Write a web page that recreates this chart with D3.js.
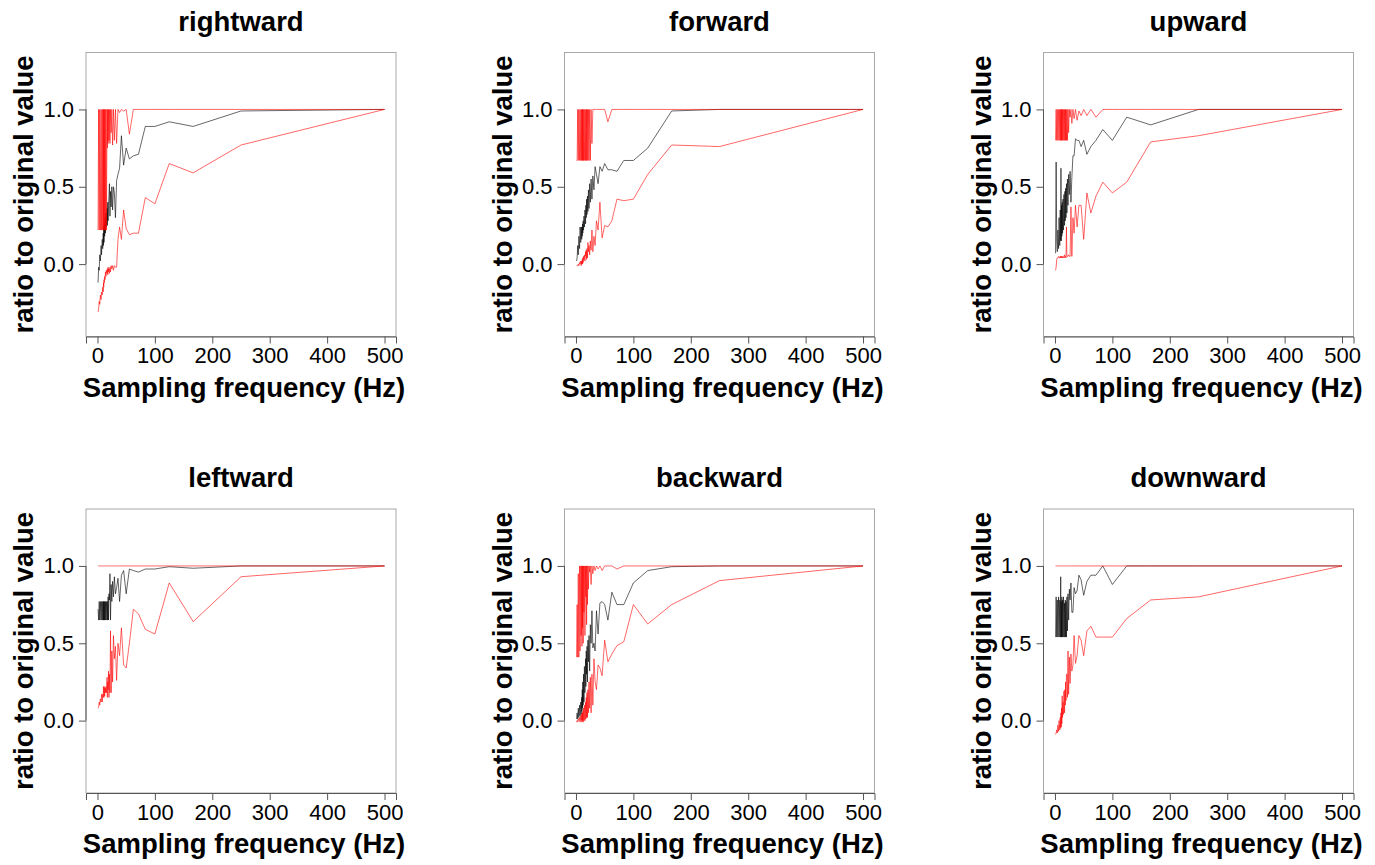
<!DOCTYPE html>
<html>
<head>
<meta charset="utf-8">
<script src="https://cdn.jsdelivr.net/npm/d3@7"></script>
<style>
  body { margin: 0; background: #fff; }
  svg { font-family: "Liberation Sans", Arial, sans-serif; }
  .box { fill: none; stroke: #a8a8a8; stroke-width: 1; }
  .axis path, .axis line { stroke: #555; }
  .axis text { fill: #000; }
  .title { font-size: 27.5px; font-weight: bold; text-anchor: middle; }
  .lab { font-size: 27.5px; font-weight: bold; text-anchor: middle; }
</style>
</head>
<body>
<svg width="1375" height="865"></svg>
<script>
/* sampling frequencies (Hz), 500/k */
var freqs = [500, 250, 166.7, 125, 100, 83.3, 71.4, 62.5, 55.6, 50,
  45.5, 41.7, 38.5, 35.7, 33.3, 31.3, 29.4, 27.8, 26.3, 25,
  23.8, 22.7, 21.7, 20.8, 20, 19.2, 18.5, 17.9, 17.2, 16.7,
  15.6, 14.7, 13.9, 13.2, 12.5, 11.9, 11.4, 10.9, 10.4, 10,
  9.1, 8.3, 7.1, 6.3, 5, 4, 3, 2, 1];

var titles = ["rightward", "forward", "upward", "leftward", "backward", "downward"];
var yTicks = [0, 0.5, 1];
var xTicks = [0, 100, 200, 300, 400, 500];

/* rightward */
var rightwardUpper = [1, 1, 1, 1, 1, 1, 1, 1, 0.84, 1,
  0.99, 1, 0.98, 1, 0.78, 1, 0.80, 1, 0.77, 1,
  0.85, 1, 0.78, 1, 0.80, 1, 0.78, 1, 0.75, 1,
  0.22, 1, 0.22, 1, 0.22, 1, 0.22, 1, 0.22, 1,
  0.22, 1, 0.22, 1, 0.22, 1, 0.22, 1, 0.22];
var rightwardMean = [1, 0.99, 0.89, 0.92, 0.89, 0.89, 0.71, 0.70, 0.68, 0.75,
  0.64, 0.83, 0.62, 0.58, 0.54, 0.30, 0.46, 0.50, 0.35, 0.50,
  0.37, 0.47, 0.31, 0.52, 0.44, 0.38, 0.28, 0.40, 0.25, 0.36,
  0.24, 0.33, 0.20, 0.30, 0.18, 0.26, 0.14, 0.24, 0.12, 0.20,
  0.10, 0.16, 0.06, 0.12, 0.02, 0.06, -0.04, -0.02, -0.12];
var rightwardLower = [1, 0.77, 0.59, 0.65, 0.39, 0.43, 0.20, 0.20, 0.19, 0.23,
  0.35, 0.16, 0.24, 0.16, -0.02, -0.02, -0.01, -0.04, -0.01, -0.03,
  -0.01, -0.05, -0.02, -0.06, -0.03, -0.05, -0.02, -0.07, -0.03, -0.06,
  -0.04, -0.08, -0.05, -0.10, -0.08, -0.12, -0.10, -0.15, -0.12, -0.18,
  -0.15, -0.20, -0.18, -0.23, -0.20, -0.26, -0.24, -0.29, -0.31];

/* forward */
var forwardUpper = [1, 1, 1, 1, 1, 1, 1, 1, 0.92, 1,
  1, 1, 1, 1, 1, 1, 1, 0.78, 1, 0.67,
  1, 0.67, 1, 0.67, 1, 0.67, 1, 0.67, 1, 0.67,
  1, 0.67, 1, 0.67, 1, 0.67, 1, 0.67, 1, 0.67,
  1, 0.67, 1, 0.67, 1, 0.67, 1, 0.67, 0.67];
var forwardMean = [1, 1, 0.99, 0.75, 0.67, 0.67, 0.60, 0.61, 0.61, 0.65,
  0.60, 0.63, 0.52, 0.58, 0.63, 0.48, 0.57, 0.42, 0.55, 0.40,
  0.52, 0.36, 0.48, 0.34, 0.44, 0.32, 0.42, 0.30, 0.38, 0.26,
  0.35, 0.24, 0.31, 0.22, 0.28, 0.20, 0.26, 0.18, 0.24, 0.16,
  0.24, 0.14, 0.24, 0.10, 0.18, 0.06, 0.12, 0.04, 0.02];
var forwardLower = [1, 0.76, 0.77, 0.58, 0.42, 0.41, 0.42, 0.28, 0.24, 0.25,
  0.17, 0.40, 0.22, 0.28, 0.12, 0.18, 0.08, 0.22, 0.09, 0.15,
  0.06, 0.12, 0.08, 0.14, 0.04, 0.10, 0.03, 0.09, 0.05, 0.08,
  0.02, 0.06, 0.03, 0.05, 0.01, 0.04, 0.00, 0.03, 0.00, 0.02,
  -0.01, 0.02, 0.00, 0.01, -0.01, 0.00, -0.01, -0.01, -0.01];

/* upward */
var upwardUpper = [1, 1, 1, 1, 1, 1, 0.95, 1, 0.96, 1,
  0.96, 0.99, 0.93, 1, 0.94, 1, 0.91, 1, 0.95, 1,
  0.85, 1, 0.80, 1, 0.80, 1, 0.80, 1, 0.80, 1,
  0.80, 1, 0.80, 1, 0.80, 1, 0.80, 1, 0.80, 1,
  0.80, 1, 0.80, 1, 0.80, 1, 0.80, 1, 0.80];
var upwardMean = [1, 1, 0.90, 0.95, 0.80, 0.87, 0.80, 0.76, 0.71, 0.80,
  0.76, 0.80, 0.80, 0.81, 0.70, 0.70, 0.56, 0.40, 0.60, 0.45,
  0.58, 0.38, 0.55, 0.33, 0.52, 0.30, 0.49, 0.28, 0.47, 0.25,
  0.45, 0.22, 0.42, 0.20, 0.40, 0.18, 0.38, 0.15, 0.62, 0.15,
  0.35, 0.12, 0.30, 0.10, 0.22, 0.08, 0.15, 0.66, 0.07];
var upwardLower = [1, 0.83, 0.79, 0.53, 0.46, 0.53, 0.44, 0.33, 0.46, 0.16,
  0.38, 0.38, 0.24, 0.38, 0.20, 0.30, 0.05, 0.37, 0.05, 0.05,
  0.06, 0.05, 0.05, 0.05, 0.24, 0.04, 0.05, 0.05, 0.04, 0.06,
  0.05, 0.04, 0.05, 0.05, 0.04, 0.05, 0.05, 0.04, 0.05, 0.04,
  0.05, 0.04, 0.04, 0.05, 0.04, 0.04, 0.03, -0.02, -0.04];

/* leftward */
var leftwardUpper = [1, 1, 1, 1, 1, 1, 1, 1, 1, 1,
  1, 1, 1, 1, 1, 1, 1, 1, 1, 1,
  1, 1, 1, 1, 1, 1, 1, 1, 1, 1,
  1, 1, 1, 1, 1, 1, 1, 1, 1, 1,
  1, 1, 1, 1, 1, 1, 1, 1, 1];
var leftwardMean = [1, 1, 0.985, 0.995, 0.98, 0.98, 0.96, 0.97, 0.98, 0.82,
  0.97, 0.94, 0.77, 0.92, 0.86, 0.82, 0.93, 0.80, 0.90, 0.77,
  0.88, 0.65, 0.95, 0.78, 0.82, 0.65, 0.80, 0.65, 0.77, 0.65,
  0.77, 0.65, 0.77, 0.65, 0.77, 0.65, 0.77, 0.65, 0.77, 0.65,
  0.77, 0.65, 0.77, 0.65, 0.77, 0.65, 0.77, 0.65, 0.72];
var leftwardLower = [1, 0.93, 0.64, 0.89, 0.56, 0.59, 0.69, 0.72, 0.50, 0.34,
  0.36, 0.60, 0.42, 0.50, 0.26, 0.48, 0.40, 0.55, 0.25, 0.45,
  0.18, 0.58, 0.18, 0.30, 0.15, 0.32, 0.20, 0.25, 0.15, 0.28,
  0.18, 0.22, 0.18, 0.21, 0.16, 0.22, 0.15, 0.17, 0.22, 0.15,
  0.17, 0.12, 0.17, 0.12, 0.14, 0.10, 0.12, 0.09, 0.08];

/* backward */
var backwardUpper = [1, 1, 1, 1, 1, 1, 0.98, 1, 1, 1,
  0.97, 1, 0.98, 1, 0.97, 1, 0.95, 1, 0.88, 1,
  0.96, 1, 0.85, 1, 0.75, 1, 0.62, 1, 0.80, 1,
  0.55, 1, 0.70, 1, 0.50, 1, 0.60, 1, 0.48, 1,
  0.55, 1, 0.45, 1, 0.41, 0.95, 0.41, 0.75, 0.41];
var backwardMean = [1, 1, 0.995, 0.97, 0.89, 0.75, 0.75, 0.83, 0.65, 0.75,
  0.77, 0.76, 0.56, 0.71, 0.45, 0.50, 0.47, 0.71, 0.50, 0.62,
  0.32, 0.55, 0.38, 0.52, 0.25, 0.48, 0.30, 0.45, 0.22, 0.40,
  0.18, 0.35, 0.12, 0.30, 0.10, 0.25, 0.08, 0.20, 0.06, 0.15,
  0.04, 0.12, 0.03, 0.10, 0.02, 0.08, 0.01, 0.05, 0.01];
var backwardLower = [1, 0.905, 0.75, 0.625, 0.75, 0.51, 0.485, 0.43, 0.38, 0.52,
  0.29, 0.34, 0.36, 0.20, 0.25, 0.40, 0.10, 0.30, 0.05, 0.28,
  0.08, 0.25, 0.05, 0.20, 0.02, 0.18, 0.02, 0.15, 0.01, 0.12,
  0.00, 0.10, 0.00, 0.08, -0.01, 0.06, 0.00, 0.05, -0.01, 0.04,
  0.00, 0.03, -0.01, 0.02, 0.00, 0.01, -0.01, 0.00, -0.01];

/* downward */
var downwardUpper = [1, 1, 1, 1, 1, 1, 1, 1, 1, 1,
  1, 1, 1, 1, 1, 1, 1, 1, 1, 1,
  1, 1, 1, 1, 1, 1, 1, 1, 1, 1,
  1, 1, 1, 1, 1, 1, 1, 1, 1, 1,
  1, 1, 1, 1, 1, 1, 1, 1, 1];
var downwardMean = [1, 1, 1, 1, 0.88, 1, 0.94, 0.94, 0.90, 0.81,
  0.91, 0.94, 0.84, 0.82, 0.86, 0.70, 0.70, 0.89, 0.78, 0.85,
  0.65, 0.82, 0.58, 0.80, 0.54, 0.77, 0.54, 0.78, 0.54, 0.76,
  0.54, 0.80, 0.54, 0.78, 0.54, 0.80, 0.54, 0.77, 0.54, 0.93,
  0.54, 0.78, 0.54, 0.80, 0.54, 0.78, 0.54, 0.80, 0.54];
var downwardLower = [1, 0.80, 0.78, 0.66, 0.54, 0.54, 0.54, 0.61, 0.58, 0.42,
  0.52, 0.55, 0.42, 0.37, 0.55, 0.36, 0.32, 0.43, 0.24, 0.41,
  0.17, 0.45, 0.15, 0.30, 0.30, 0.13, 0.25, 0.10, 0.20, 0.05,
  0.19, 0.04, 0.12, 0.02, 0.16, -0.02, 0.08, -0.04, 0.05, -0.05,
  0.02, -0.06, 0.00, -0.07, -0.03, -0.08, -0.06, -0.08, -0.09];

var panels = [
  [rightwardMean, rightwardUpper, rightwardLower],
  [forwardMean, forwardUpper, forwardLower],
  [upwardMean, upwardUpper, upwardLower],
  [leftwardMean, leftwardUpper, leftwardLower],
  [backwardMean, backwardUpper, backwardLower],
  [downwardMean, downwardUpper, downwardLower]
];

var svg = d3.select("svg"),
    lefts = [86, 564.5, 1043.5],
    tops = [52.5, 509],
    pw = 310,
    ph = 284;

/* R style: limits padded by 4% */
var x = d3.scaleLinear().domain([-20, 520]).range([0, pw]),
    y = d3.scaleLinear().domain([-0.468, 1.368]).range([ph, 0]);

var line = d3.line()
    .x(function(d) { return x(d[0]); })
    .y(function(d) { return y(d[1]); });

panels.forEach(function(series, i) {
  var g = svg.append("g")
      .attr("transform", "translate(" + lefts[i % 3] + "," + tops[Math.floor(i / 3)] + ")");

  /* mean first, then the two red bounds on top */
  series.forEach(function(vals, j) {
    g.append("path")
      .datum(freqs.map(function(f, k) { return [f, vals[k]]; }))
      .attr("d", line)
      .attr("fill", "none")
      .attr("stroke", j == 0 ? "#000" : "#ff0000")
      .attr("stroke-width", 0.6);
  });

  g.append("rect")
    .attr("class", "box")
    .attr("width", pw)
    .attr("height", ph);

  g.append("g")
    .attr("class", "axis")
    .attr("transform", "translate(0," + ph + ")")
    .call(d3.axisBottom(x).tickValues(xTicks).tickSizeOuter(0).tickSize(7).tickPadding(4))
    .attr("font-size", 22)
    .attr("font-family", "Liberation Sans, Arial, sans-serif");

  g.append("g")
    .attr("class", "axis")
    .call(d3.axisLeft(y).tickValues(yTicks).tickFormat(d3.format(".1f")).tickSizeOuter(0).tickSize(7).tickPadding(5))
    .attr("font-size", 22)
    .attr("font-family", "Liberation Sans, Arial, sans-serif")
    .call(function(a) { a.select(".domain").attr("d", "M0," + y(0) + "V" + y(1)); });

  g.append("text")
    .attr("class", "title")
    .attr("x", pw / 2)
    .attr("y", -22)
    .text(titles[i]);

  g.append("text")
    .attr("class", "lab")
    .attr("x", pw / 2 + 3)
    .attr("y", ph + 60)
    .text("Sampling frequency (Hz)");

  g.append("text")
    .attr("class", "lab")
    .attr("transform", "translate(-53," + (ph / 2) + ") rotate(-90)")
    .text("ratio to original value");
});
</script>
</body>
</html>
